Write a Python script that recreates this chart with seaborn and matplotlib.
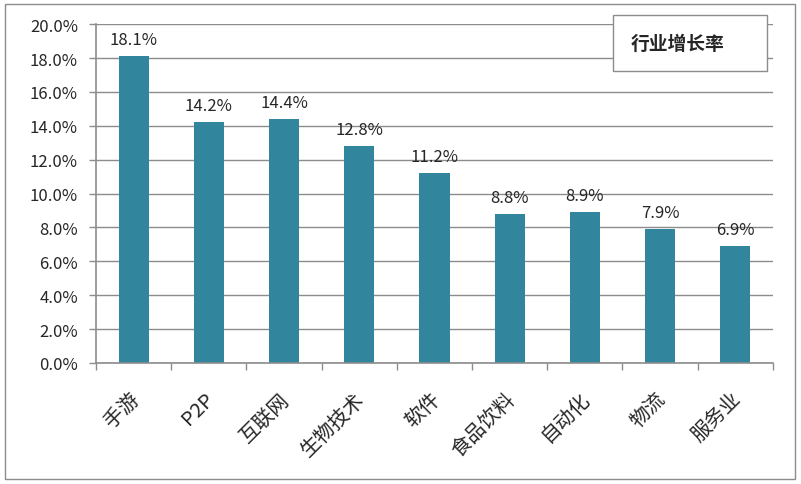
import numpy as np
import pandas as pd
import matplotlib
matplotlib.use("Agg")
import matplotlib.pyplot as plt
import matplotlib.transforms as mtransforms
import seaborn as sns
from matplotlib.patches import Rectangle

# chart data
industries = ['手游', 'P2P', '互联网', '生物技术', '软件', '食品饮料', '自动化', '物流', '服务业']
growth = [18.1, 14.2, 14.4, 12.8, 11.2, 8.8, 8.9, 7.9, 6.9]
series_name = '行业增长率'
y_ticks = [0, 2, 4, 6, 8, 10, 12, 14, 16, 18, 20]

sns.set_style('white')
plt.rcParams['font.family'] = ['Noto Sans CJK SC', 'DejaVu Sans']

bar_color = '#31859C'
grid_color = '#8C8C8C'

df = pd.DataFrame({'industry': industries, 'growth': growth})

fig = plt.figure(figsize=(8.01, 4.85), dpi=100)
ax = fig.add_axes([0.1199, 0.2495, 0.845, 0.6985])

sns.barplot(data=df, x='industry', y='growth', color=bar_color, width=0.4,
            saturation=1, linewidth=0, ax=ax)

ax.set_ylim(0, 20)
ax.set_xlim(-0.5, len(industries) - 0.5)
ax.set_yticks(y_ticks)
ax.set_yticklabels([f'{v:.1f}%' for v in y_ticks], fontsize=12)
ax.yaxis.grid(True, color=grid_color, linewidth=1)
ax.set_axisbelow(True)
ax.tick_params(axis='y', length=5, color=grid_color, width=1, pad=8, left=True)

ax.set_xticks(range(len(industries)))
ax.set_xticklabels(industries, rotation=45, ha='right', rotation_mode='anchor', fontsize=14.5)
ax.tick_params(axis='x', which='major', length=0, pad=18)
ax.set_xticks(np.arange(-0.5, len(industries)), minor=True)
ax.tick_params(axis='x', which='minor', length=5, color=grid_color, width=1, bottom=True)
# nudge labels a little to the left
shift = mtransforms.ScaledTranslation(-0.05, 0, fig.dpi_scale_trans)
for lbl in ax.get_xticklabels():
    lbl.set_transform(lbl.get_transform() + shift)

ax.set_xlabel('')
ax.set_ylabel('')

for side in ['top', 'right']:
    ax.spines[side].set_visible(False)
for side in ['left', 'bottom']:
    ax.spines[side].set_color(grid_color)
    ax.spines[side].set_linewidth(1.2)

ax.bar_label(ax.containers[0], labels=[f'{v:.1f}%' for v in growth],
             padding=6, fontsize=12)

# legend box (text only)
fig.patches.append(Rectangle((613 / 801, 1 - 72 / 485), 154 / 801, 56 / 485,
                             transform=fig.transFigure, facecolor='white',
                             edgecolor=grid_color, linewidth=1, zorder=5))
fig.text(678 / 801, 1 - 44 / 485, series_name, ha='center', va='center',
         fontsize=13.5, fontweight='bold', zorder=6)

# outer border
fig.patches.append(Rectangle((5 / 801, 5 / 485), 790 / 801, 475 / 485,
                             transform=fig.transFigure, facecolor='none',
                             edgecolor=grid_color, linewidth=1))

fig.savefig('out.png', dpi=100)
